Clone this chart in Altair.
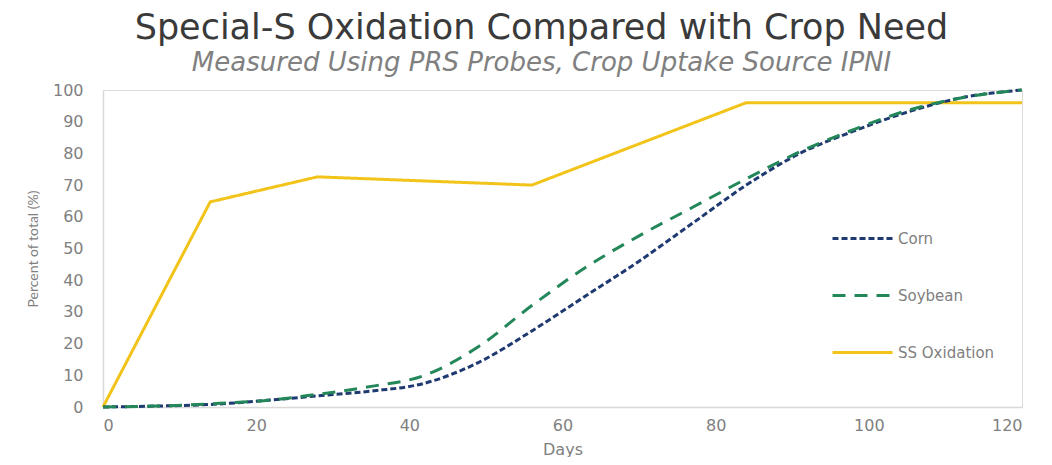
import altair as alt
import pandas as pd

days = [0, 7, 14, 21, 28, 35, 42, 49, 56, 63, 70, 77, 84, 91, 98, 105, 112, 120]
corn = [0, 0.3, 0.8, 2, 3.5, 5, 7.5, 14, 24, 35, 46, 58, 70, 80, 87, 93, 97.5, 100]
soybean = [0, 0.3, 1, 2, 4, 6.5, 10, 19, 32, 44, 54, 63, 72, 80.5, 87.5, 93.5, 97.5, 100]

ss_days = [0, 14, 28, 56, 84, 120]
ss_ox = [0, 64.7, 72.6, 70, 96, 96]

series_names = ["Corn", "Soybean", "SS Oxidation"]
series_colors = ["#1f3a70", "#23875a", "#f2c319"]
series_dashes = [[6, 3], [13, 9], [1, 0]]

rows = []
for d, c, s in zip(days, corn, soybean):
    rows.append({"day": d, "value": c, "series": "Corn"})
    rows.append({"day": d, "value": s, "series": "Soybean"})
crop_df = pd.DataFrame(rows)
ss_df = pd.DataFrame({"day": ss_days, "value": ss_ox, "series": "SS Oxidation"})

FONT = "DejaVu Sans"
GRAY = "#808080"

x_enc = alt.X("day:Q", title="Days",
              scale=alt.Scale(domain=[0, 120], nice=False),
              axis=alt.Axis(values=[0, 20, 40, 60, 80, 100, 120], grid=False, ticks=False,
                            domainColor="#d9d9d9", domainWidth=1.5,
                            labelFont=FONT, labelFontSize=16, labelColor=GRAY, labelPadding=10,
                            titleFont=FONT, titleFontSize=16, titleColor=GRAY, titleFontWeight="normal",
                            titlePadding=8))
y_enc = alt.Y("value:Q", title="Percent of total (%)",
              scale=alt.Scale(domain=[0, 100], nice=False),
              axis=alt.Axis(values=list(range(0, 101, 10)), grid=False, ticks=False,
                            domainColor="#d9d9d9", domainWidth=1.5,
                            labelFont=FONT, labelFontSize=16, labelColor=GRAY, labelPadding=20,
                            titleFont="Lato", titleFontSize=14, titleColor=GRAY, titleFontWeight="normal",
                            titlePadding=12))

color_enc = alt.Color("series:N", scale=alt.Scale(domain=series_names, range=series_colors),
                      legend=alt.Legend(title=None, orient="none", legendX=728, legendY=117,
                                        symbolType="stroke", symbolSize=3600, symbolStrokeWidth=3,
                                        labelFont=FONT, labelFontSize=15, labelColor=GRAY,
                                        labelOffset=4, rowPadding=17))
dash_enc = alt.StrokeDash("series:N", scale=alt.Scale(domain=series_names, range=series_dashes),
                          legend=None)

ss_layer = alt.Chart(ss_df).mark_line(strokeWidth=3).encode(
    x=x_enc, y=y_enc, color=color_enc, strokeDash=dash_enc)
crop_layer = alt.Chart(crop_df).mark_line(strokeWidth=3, interpolate="monotone").encode(
    x=x_enc, y=y_enc, color=color_enc, strokeDash=dash_enc, detail="series:N")

chart = alt.layer(ss_layer, crop_layer).properties(
    width=919, height=317,
    padding={"left": 95, "top": 82, "right": 18, "bottom": 50},
    autosize=alt.AutoSizeParams(type="none"),
    title=alt.TitleParams(
        text="Special-S Oxidation Compared with Crop Need",
        subtitle="Measured Using PRS Probes, Crop Uptake Source IPNI",
        font=FONT, fontSize=35, fontWeight="normal", color="#3a3a3a",
        subtitleFont=FONT, subtitleFontSize=26, subtitleFontStyle="italic", subtitleColor=GRAY,
        anchor="middle", dx=-21, offset=6, subtitlePadding=4),
).configure_view(stroke=None).configure(background="white")

chart.save("out.html", embed_options={"renderer": "svg", "actions": False})
